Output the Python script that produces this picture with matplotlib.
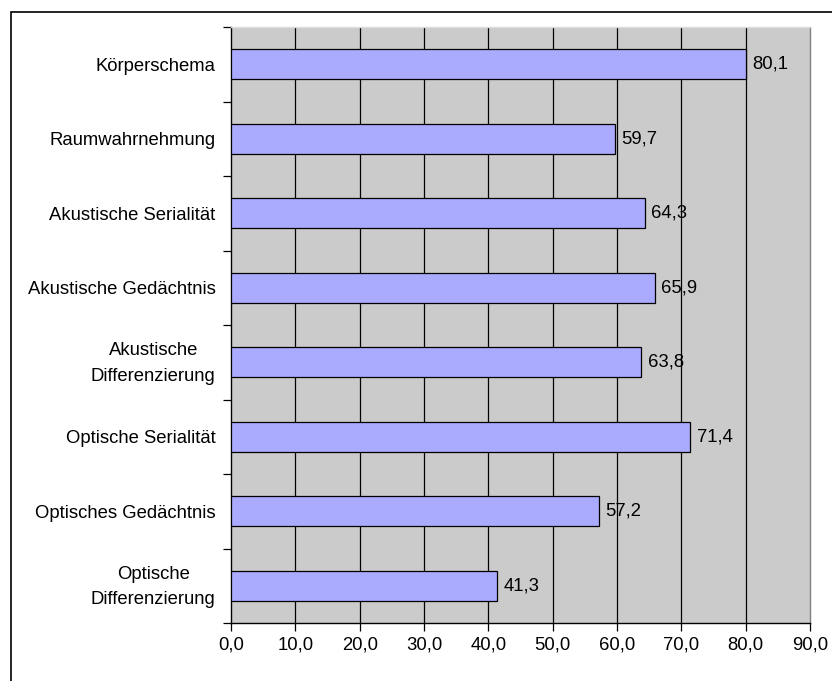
import matplotlib
matplotlib.use("Agg")
import matplotlib.pyplot as plt
from matplotlib.patches import Rectangle
from matplotlib.transforms import ScaledTranslation

plt.rcParams['font.family'] = ['Liberation Sans', 'DejaVu Sans']

# data, top to bottom as in the chart
categories = ["Körperschema", "Raumwahrnehmung", "Akustische Serialität",
              "Akustische Gedächtnis", "Akustische\nDifferenzierung",
              "Optische Serialität", "Optisches Gedächtnis",
              "Optische\nDifferenzierung"]
values = [80.1, 59.7, 64.3, 65.9, 63.8, 71.4, 57.2, 41.3]
xticks = [0, 10, 20, 30, 40, 50, 60, 70, 80, 90]

fs = 13.3

fig = plt.figure(figsize=(8.32, 6.81), dpi=100)
# outer chart border (cropped on the right / bottom in the original)
fig.patches.append(Rectangle((11 / 832, -0.05), 1.0, 1 - 12 / 681 + 0.05,
                             transform=fig.transFigure, fill=False,
                             edgecolor='black', linewidth=1.2))

ax = fig.add_axes([231 / 832, 1 - 623 / 681, (810 - 231) / 832, (623 - 27) / 681])
ax.set_facecolor('#CBCBCB')

n = len(categories)
ypos = list(range(n))
ax.barh(ypos, values, height=0.4, color='#AAAAFF', edgecolor='black',
        linewidth=0.9, zorder=3)
for y, v in zip(ypos, values):
    ax.text(v + 1.0, y, f"{v:.1f}".replace('.', ','), va='center', ha='left',
            fontsize=fs, zorder=4)

ax.set_xlim(0, 90)
ax.set_ylim(n - 0.5, -0.5)
ax.set_xticks(xticks)
ax.set_xticklabels([f"{t:.1f}".replace('.', ',') for t in xticks], fontsize=fs)
for t in xticks[1:-1]:
    ax.axvline(t, color='black', linewidth=0.9, zorder=1)

# category labels at centers, tick marks at boundaries
ax.set_yticks(ypos)
ax.set_yticklabels(categories, fontsize=fs, multialignment='center',
                   linespacing=1.65)
ax.tick_params(axis='y', length=0, pad=11)
ax.set_yticks([i - 0.5 for i in range(n + 1)], minor=True)
ax.tick_params(axis='y', which='minor', length=6, width=0.9, direction='out')
ax.tick_params(axis='x', length=6, width=0.9, direction='out', pad=4)

# two-line labels sit a little higher in the original
for lbl in ax.get_yticklabels():
    if "\n" in lbl.get_text():
        lbl.set_transform(lbl.get_transform() +
                          ScaledTranslation(0, 5 / 100, fig.dpi_scale_trans))

ax.spines['left'].set_color('black')
ax.spines['bottom'].set_color('black')
ax.spines['right'].set_color('#808080')
ax.spines['top'].set_color('#DDDDDD')
for s in ax.spines.values():
    s.set_linewidth(1.0)

fig.savefig("out.png", dpi=100)
